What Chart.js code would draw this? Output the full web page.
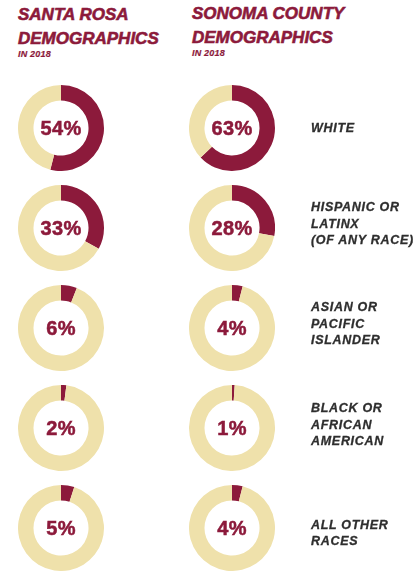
<!DOCTYPE html>
<html>
<head>
<meta charset="utf-8">
<script src="https://cdn.jsdelivr.net/npm/chart.js@4"></script>
<style>
  html, body { margin: 0; padding: 0; background: #ffffff; }
  #page { position: relative; width: 418px; height: 573px; overflow: hidden; font-family: "Liberation Sans", Arial, sans-serif; }
  .head { position: absolute; color: #8c1a3b; font-weight: 700; font-style: italic; -webkit-text-stroke: 0.6px #8c1a3b; }
  .head .l1, .head .l2 { font-size: 17px; line-height: 24px; letter-spacing: 0px; white-space: nowrap; }
  .head .l3 { font-size: 9px; line-height: 11px; margin-top: -2px; letter-spacing: 0.2px; -webkit-text-stroke: 0.2px #8c1a3b; }
  .cell { position: absolute; width: 86px; height: 86px; }
  .cell canvas { position: absolute; left: 0; top: 0; }
  .pct { position: absolute; left: 0; top: 0; width: 86px; height: 86px; display: flex; align-items: center; justify-content: center;
         color: #8c1a3b; font-weight: 700; font-size: 20px; letter-spacing: 0.4px; -webkit-text-stroke: 0.5px #8c1a3b; }
  .cat { position: absolute; left: 311px; color: #2e2e2e; font-weight: 700; font-style: italic; font-size: 12.5px; line-height: 16.5px;
         letter-spacing: 0.7px; white-space: nowrap; -webkit-text-stroke: 0.3px #2e2e2e; }
</style>
</head>
<body>
<div id="page">
  <div class="head" style="left:18px; top:3px;">
    <div class="l1">SANTA ROSA</div>
    <div class="l2">DEMOGRAPHICS</div>
    <div class="l3">IN 2018</div>
  </div>
  <div class="head" style="left:192px; top:2px;">
    <div class="l1">SONOMA COUNTY</div>
    <div class="l2">DEMOGRAPHICS</div>
    <div class="l3">IN 2018</div>
  </div>
</div>
<script>
// Population share by race / ethnicity, 2018 (percent)
const categories = [
  ['WHITE'],
  ['HISPANIC OR', 'LATINX', '(OF ANY RACE)'],
  ['ASIAN OR', 'PACIFIC', 'ISLANDER'],
  ['BLACK OR', 'AFRICAN', 'AMERICAN'],
  ['ALL OTHER', 'RACES']
];
const santaRosa = [54, 33, 6, 2, 5];
const sonomaCounty = [63, 28, 4, 1, 4];

const MAROON = '#8c1a3b';
const CREAM = '#efe1ab';

const page = document.getElementById('page');
const columnX = [18, 189];
const rowTop = 85;
const rowStep = 100;
const labelNudge = [0, -4, -4, -3, 5];

function ring(x, y, value) {
  const cell = document.createElement('div');
  cell.className = 'cell';
  cell.style.left = x + 'px';
  cell.style.top = y + 'px';
  const canvas = document.createElement('canvas');
  canvas.width = 86;
  canvas.height = 86;
  cell.appendChild(canvas);
  const label = document.createElement('div');
  label.className = 'pct';
  label.textContent = value + '%';
  cell.appendChild(label);
  page.appendChild(cell);

  new Chart(canvas, {
    type: 'doughnut',
    data: {
      labels: ['share', 'rest'],
      datasets: [{
        data: [value, 100 - value],
        backgroundColor: [MAROON, CREAM],
        borderWidth: 0
      }]
    },
    options: {
      responsive: false,
      animation: false,
      cutout: '64%',
      layout: { padding: 0 },
      plugins: { legend: { display: false }, tooltip: { enabled: false } },
      events: []
    }
  });
}

categories.forEach((lines, i) => {
  const top = rowTop + i * rowStep;
  ring(columnX[0], top, santaRosa[i]);
  ring(columnX[1], top, sonomaCounty[i]);

  const cat = document.createElement('div');
  cat.className = 'cat';
  lines.forEach(t => {
    const d = document.createElement('div');
    d.textContent = t;
    cat.appendChild(d);
  });
  const h = lines.length * 16.5;
  cat.style.top = (top + 43 - h / 2 + labelNudge[i]) + 'px';
  page.appendChild(cat);
});
</script>
</body>
</html>
